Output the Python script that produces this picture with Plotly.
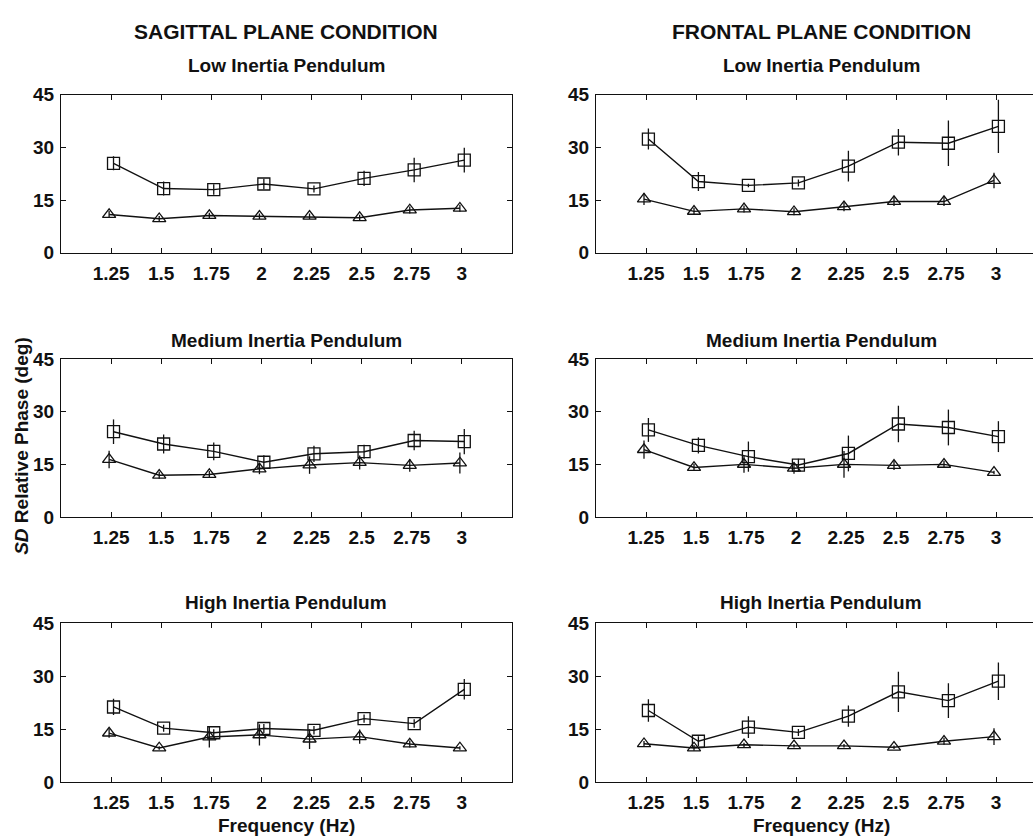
import plotly.graph_objects as go

# Movement frequencies (Hz) and tick labels
freq = [1.25, 1.5, 1.75, 2, 2.25, 2.5, 2.75, 3]
freq_labels = ["1.25", "1.5", "1.75", "2", "2.25", "2.5", "2.75", "3"]
sd_ticks = [0, 15, 30, 45]

# SD of relative phase (deg); squares = first condition, triangles = second
# Sagittal plane
sag_low_sq = [25.5, 18.3, 18.0, 19.6, 18.2, 21.2, 23.6, 26.4]
sag_low_sq_err = [2.0, 2.0, 1.5, 1.5, 1.0, 2.2, 3.5, 3.5]
sag_low_tri = [10.9, 9.7, 10.6, 10.4, 10.4, 10.0, 12.2, 12.7]
sag_low_tri_err = [1.0, 0.8, 0.8, 0.8, 0.8, 0.8, 1.0, 1.0]

sag_med_sq = [24.3, 20.8, 18.7, 15.6, 18.0, 18.6, 21.8, 21.5]
sag_med_sq_err = [3.5, 2.7, 2.5, 2.0, 2.3, 2.0, 2.8, 3.6]
sag_med_tri = [16.4, 11.9, 12.1, 13.7, 14.8, 15.5, 14.7, 15.4]
sag_med_tri_err = [2.5, 1.0, 1.0, 1.5, 2.5, 2.0, 1.8, 3.0]

sag_high_sq = [21.3, 15.3, 14.0, 15.2, 14.7, 18.0, 16.6, 26.3]
sag_high_sq_err = [2.3, 1.0, 1.0, 1.3, 1.2, 1.2, 1.2, 2.9]
sag_high_tri = [13.9, 9.7, 12.8, 13.4, 12.2, 12.9, 10.8, 9.7]
sag_high_tri_err = [1.3, 0.5, 3.0, 3.0, 2.8, 2.0, 1.0, 0.5]

# Frontal plane
fro_low_sq = [32.4, 20.3, 19.2, 19.9, 24.7, 31.5, 31.2, 36.0]
fro_low_sq_err = [3.0, 2.7, 0.5, 1.0, 4.4, 3.8, 6.5, 7.6]
fro_low_tri = [15.3, 11.8, 12.5, 11.7, 13.1, 14.6, 14.6, 20.6]
fro_low_tri_err = [1.7, 1.0, 1.0, 1.0, 1.3, 1.3, 1.3, 2.2]

fro_med_sq = [24.8, 20.4, 17.2, 14.8, 18.1, 26.5, 25.5, 22.9]
fro_med_sq_err = [3.4, 2.3, 4.3, 1.8, 5.1, 5.2, 5.1, 4.4]
fro_med_tri = [19.2, 14.1, 15.0, 13.9, 15.0, 14.7, 15.0, 12.7]
fro_med_tri_err = [2.6, 1.0, 2.4, 1.6, 3.8, 1.3, 1.0, 0.5]

fro_high_sq = [20.3, 11.6, 15.6, 14.1, 18.7, 25.6, 23.1, 28.6]
fro_high_sq_err = [3.2, 1.4, 3.1, 1.0, 3.0, 5.7, 4.9, 5.3]
fro_high_tri = [10.9, 9.7, 10.6, 10.3, 10.3, 9.9, 11.6, 12.9]
fro_high_tri_err = [0.8, 0.8, 0.6, 0.5, 0.5, 0.5, 1.0, 2.4]

panels = [
    ("Low Inertia Pendulum", sag_low_sq, sag_low_sq_err, sag_low_tri, sag_low_tri_err),
    ("Low Inertia Pendulum", fro_low_sq, fro_low_sq_err, fro_low_tri, fro_low_tri_err),
    ("Medium Inertia Pendulum", sag_med_sq, sag_med_sq_err, sag_med_tri, sag_med_tri_err),
    ("Medium Inertia Pendulum", fro_med_sq, fro_med_sq_err, fro_med_tri, fro_med_tri_err),
    ("High Inertia Pendulum", sag_high_sq, sag_high_sq_err, sag_high_tri, sag_high_tri_err),
    ("High Inertia Pendulum", fro_high_sq, fro_high_sq_err, fro_high_tri, fro_high_tri_err),
]

W, H = 1033, 840
FONT = "Liberation Sans, Arial, Helvetica, sans-serif"
INK = "#111111"

# plot-area geometry in pixels
col_x = [(61, 512), (596, W)]
row_y = [(87, 249), (358, 520), (629, 792)]
px_per_unit = 200.0
col_range = [[1.0, 3.25], [1.0, 1.0 + (W - 596) / px_per_unit]]
title_y = [57, 339, 608]

dodge_sq, dodge_tri = 0.012, -0.01

fig = go.Figure()
layout = dict(
    width=W, height=H,
    margin=dict(l=0, r=0, t=0, b=0),
    paper_bgcolor="white", plot_bgcolor="white",
    showlegend=False,
    font=dict(family=FONT, color=INK),
)
annotations = []


def err(a):
    return dict(type="data", array=a, visible=True, width=0, thickness=1.3, color=INK)


for i, (ttl, sq, sq_err, tri, tri_err) in enumerate(panels):
    r, c = divmod(i, 2)
    n = i + 1
    xa = "x" if n == 1 else f"x{n}"
    ya = "y" if n == 1 else f"y{n}"
    xd = [col_x[c][0] / W, col_x[c][1] / W]
    yd = [1 - row_y[r][1] / H, 1 - row_y[r][0] / H]

    line = dict(color=INK, width=1.4)

    fig.add_trace(go.Scatter(
        x=[f + dodge_sq for f in freq], y=sq, xaxis=xa, yaxis=ya,
        mode="lines+markers", line=line, error_y=err(sq_err),
        marker=dict(symbol="square-open", size=12, color=INK, line=dict(width=1.3, color=INK)),
        cliponaxis=False,
    ))
    fig.add_trace(go.Scatter(
        x=[f + dodge_tri for f in freq], y=tri, xaxis=xa, yaxis=ya,
        mode="lines+markers", line=line, error_y=err(tri_err),
        marker=dict(symbol="triangle-up-open", size=11.5, color=INK, line=dict(width=1.3, color=INK)),
        cliponaxis=False,
    ))

    axis_common = dict(
        showline=True, linecolor=INK, linewidth=1.3,
        ticks="inside", ticklen=5, tickwidth=1, tickcolor=INK,
        showgrid=False, zeroline=False,
        tickfont=dict(family=FONT, size=19, color=INK, weight="bold"),
        fixedrange=True,
    )
    layout["xaxis" if n == 1 else f"xaxis{n}"] = dict(
        axis_common, domain=xd, range=col_range[c], anchor=ya,
        tickvals=freq, ticktext=freq_labels, mirror="ticks", ticklabelstandoff=3,
    )
    layout["yaxis" if n == 1 else f"yaxis{n}"] = dict(
        axis_common, domain=yd, range=[0, 45], anchor=xa,
        tickvals=sd_ticks, mirror="ticks" if c == 0 else False, ticklabelstandoff=2,
    )

    cx = (col_x[c][0] + col_x[c][0] + 2.25 * px_per_unit) / 2 / W
    annotations.append(dict(
        text=f"<b>{ttl}</b>", x=cx, y=1 - title_y[r] / H, xref="paper", yref="paper",
        xanchor="center", yanchor="middle", showarrow=False,
        font=dict(family=FONT, size=19, color=INK),
    ))

# column headers and shared x-axis titles
for c, txt in enumerate(["SAGITTAL PLANE CONDITION", "FRONTAL PLANE CONDITION"]):
    cx = (col_x[c][0] + col_x[c][0] + 2.25 * px_per_unit) / 2 / W
    annotations.append(dict(
        text=f"<b>{txt}</b>", x=cx, y=1 - 22 / H, xref="paper", yref="paper",
        xanchor="center", yanchor="middle", showarrow=False,
        font=dict(family=FONT, size=21, color=INK),
    ))
    annotations.append(dict(
        text="<b>Frequency (Hz)</b>", x=cx, y=1 - 836 / H, xref="paper", yref="paper",
        xanchor="center", yanchor="middle", showarrow=False,
        font=dict(family=FONT, size=19, color=INK),
    ))

# shared y-axis title
annotations.append(dict(
    text="<b><i>SD</i> Relative Phase (deg)</b>", x=22 / W, y=1 - 447 / H,
    xref="paper", yref="paper", xanchor="center", yanchor="middle",
    textangle=-90, showarrow=False, font=dict(family=FONT, size=19, color=INK),
))

layout["annotations"] = annotations
fig.update_layout(**layout)
fig.write_html("out.html")
